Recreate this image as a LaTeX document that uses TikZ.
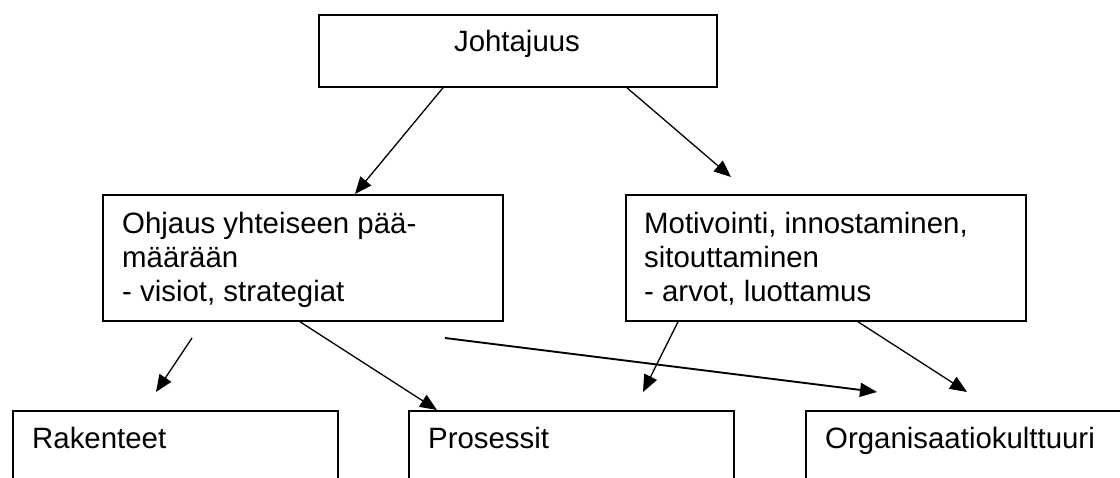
\documentclass[tikz,border=0pt]{standalone}
\usepackage{fontspec}
\setmainfont{Liberation Sans}
\usetikzlibrary{arrows.meta,calc}
\begin{document}
\begin{tikzpicture}[x=1pt,y=-1pt,
  box/.style={draw, line width=1.8pt, rectangle, inner sep=0pt, anchor=north west},
  lbl/.style={font=\fontsize{29.4}{34}\selectfont, inner sep=0pt},
  conn/.style={line width=1.3pt, -{Triangle[length=17pt,width=14pt]}}]
\clip (0,0) rectangle (1120,478);
\fill[white] (0,0) rectangle (1120,478);
% boxes
\node[box, minimum width=398pt, minimum height=72pt] (lead) at (318,14) {};
\node[lbl, anchor=base] (leadt) at (517,52) {Johtajuus};
\node[box, minimum width=400pt, minimum height=126pt] (guide) at (102,194) {};
\node[lbl, anchor=north west, align=left] (guidet) at (122,212) {Ohjaus yhteiseen pää-\\määrään\\- visiot, strategiat};
\node[box, minimum width=400pt, minimum height=126pt] (motiv) at (625,194) {};
\node[lbl, anchor=north west, align=left] (motivt) at (644,212) {Motivointi, innostaminen,\\sitouttaminen\\- arvot, luottamus};
\node[box, minimum width=325pt, minimum height=100pt] (struct) at (12,410) {};
\node[lbl, anchor=base west] (structt) at (32,448) {Rakenteet};
\node[box, minimum width=325pt, minimum height=100pt] (proc) at (408,410) {};
\node[lbl, anchor=base west] (proct) at (428,448) {Prosessit};
\node[box, minimum width=400pt, minimum height=100pt] (cult) at (805,410) {};
\node[lbl, anchor=base west] (cultt) at (825,448) {Organisaatiokulttuuri};
% free ends
\coordinate (rtip) at (731,177);
\coordinate (sstart) at (192,338);
\coordinate (stip) at (156,392);
\coordinate (lstart) at (445,338);
\coordinate (ltip) at (877,392);
\coordinate (mtip) at (643,392);
\coordinate (ctip) at (967,392);
% connectors
\draw[conn] ($(lead.south west)+(125,0)$) -- ($(guide.north west)+(253,0)$);
\draw[conn] ($(lead.south west)+(309,0)$) -- (rtip);
\draw[conn] (sstart) -- (stip);
\draw[conn] ($(guide.south west)+(198,0)$) -- ($(proc.north west)+(29,0)$);
\draw[conn, line width=1.9pt] (lstart) -- (ltip);
\draw[conn] ($(motiv.south west)+(53,0)$) -- (mtip);
\draw[conn] ($(motiv.south west)+(233,0)$) -- (ctip);
\end{tikzpicture}
\end{document}
